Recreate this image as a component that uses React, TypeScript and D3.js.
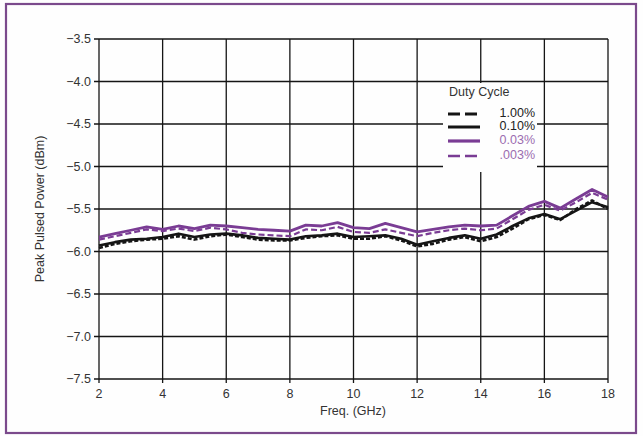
import React from "react";
import * as d3 from "d3";

const freqs = [2, 2.5, 3, 3.5, 4, 4.5, 5, 5.5, 6, 6.5, 7, 7.5, 8, 8.5, 9, 9.5, 10, 10.5, 11, 11.5, 12, 12.5, 13, 13.5, 14, 14.5, 15, 15.5, 16, 16.5, 17, 17.5, 18];

const duty100 = [-5.96, -5.91, -5.88, -5.86, -5.85, -5.82, -5.86, -5.82, -5.8, -5.83, -5.86, -5.87, -5.87, -5.84, -5.82, -5.81, -5.85, -5.85, -5.82, -5.87, -5.94, -5.91, -5.86, -5.83, -5.88, -5.83, -5.73, -5.62, -5.57, -5.63, -5.5, -5.4, -5.5];
const duty010 = [-5.93, -5.89, -5.86, -5.85, -5.83, -5.79, -5.83, -5.8, -5.79, -5.81, -5.84, -5.85, -5.86, -5.82, -5.81, -5.79, -5.83, -5.82, -5.81, -5.85, -5.92, -5.88, -5.84, -5.81, -5.85, -5.8, -5.7, -5.61, -5.56, -5.62, -5.52, -5.42, -5.48];
const duty003 = [-5.83, -5.79, -5.75, -5.71, -5.74, -5.7, -5.73, -5.69, -5.7, -5.72, -5.74, -5.75, -5.76, -5.69, -5.7, -5.66, -5.72, -5.73, -5.67, -5.72, -5.77, -5.74, -5.71, -5.69, -5.7, -5.69, -5.58, -5.47, -5.41, -5.49, -5.38, -5.27, -5.36];
const duty0003 = [-5.86, -5.82, -5.78, -5.74, -5.76, -5.73, -5.76, -5.72, -5.74, -5.78, -5.8, -5.81, -5.82, -5.74, -5.75, -5.71, -5.77, -5.78, -5.74, -5.78, -5.82, -5.78, -5.75, -5.73, -5.75, -5.73, -5.62, -5.51, -5.45, -5.52, -5.42, -5.31, -5.39];

const xTicks = [2, 4, 6, 8, 10, 12, 14, 16, 18];
const yTicks = [-3.5, -4.0, -4.5, -5.0, -5.5, -6.0, -6.5, -7.0, -7.5];
const legendLabels = ["1.00%", "0.10%", "0.03%", ".003%"];

const BLACK = "#151515";
const PURPLE = "#7a3c94";
const PURPLE_TEXT = "#9b6cb0";
const FONT = "'Liberation Sans', Arial, Helvetica, sans-serif";

export default function App() {
  const W = 643, H = 436;
  const x = d3.scaleLinear().domain([2, 18]).range([99, 608]);
  const y = d3.scaleLinear().domain([-3.5, -7.5]).range([39, 379]);

  const series = [
    { name: legendLabels[0], values: duty100, color: BLACK, dash: "4,2", width: 2.6, text: "#222" },
    { name: legendLabels[1], values: duty010, color: BLACK, dash: null, width: 2.6, text: "#222" },
    { name: legendLabels[3], values: duty0003, color: PURPLE, dash: "6,3", width: 2.2, text: PURPLE_TEXT },
    { name: legendLabels[2], values: duty003, color: PURPLE, dash: null, width: 2.8, text: PURPLE_TEXT },
  ];
  const legendOrder = [series[0], series[1], series[3], series[2]];

  const line = (vals: number[]) =>
    d3.line<number>().x((_, i) => x(freqs[i])).y((v) => y(v))(vals) || "";

  const legendRowsY = [114, 127, 141, 156];

  return (
    <svg width={W} height={H} style={{ position: "absolute", left: 0, top: 0, background: "#fff" }}>
      <rect x={0} y={0} width={W} height={H} fill="#fefefe" />
      <rect x={6} y={4} width={630} height={429} fill="none" stroke="#7b4a8c" strokeWidth={2.2} />
      {/* grid */}
      {xTicks.map((t) => (
        <line key={"gx" + t} x1={x(t)} x2={x(t)} y1={y(-3.5)} y2={y(-7.5) + 4} stroke={BLACK} strokeWidth={1.3} />
      ))}
      {yTicks.map((t) => (
        <line key={"gy" + t} x1={x(2) - 5} x2={x(18)} y1={y(t)} y2={y(t)} stroke={BLACK} strokeWidth={1.3} />
      ))}
      {/* legend background */}
      <rect x={443} y={83} width={94} height={89} fill="#fefefe" />
      {/* series */}
      {series.map((s) => (
        <path key={s.name} d={line(s.values)} fill="none" stroke={s.color} strokeWidth={s.width}
          strokeDasharray={s.dash || undefined} strokeLinejoin="round" />
      ))}
      {/* tick labels */}
      {yTicks.map((t) => (
        <text key={"yl" + t} x={91} y={y(t)} dy="0.35em" textAnchor="end" fontFamily={FONT} fontSize={12.5} fill="#333">
          {d3.format(".1f")(t).replace("-", "\u2212")}
        </text>
      ))}
      {xTicks.map((t) => (
        <text key={"xl" + t} x={x(t)} y={394} dy="0.35em" textAnchor="middle" fontFamily={FONT} fontSize={12.5} fill="#333">
          {t}
        </text>
      ))}
      <text x={353} y={411} dy="0.35em" textAnchor="middle" fontFamily={FONT} fontSize={12.5} fill="#333">Freq. (GHz)</text>
      <text transform={`translate(40,${y(-5.5)}) rotate(-90)`} dy="0.35em" textAnchor="middle" fontFamily={FONT} fontSize={12.5} fill="#333">
        Peak Pulsed Power (dBm)
      </text>
      {/* legend */}
      <text x={449} y={92} dy="0.35em" fontFamily={FONT} fontSize={12.5} fill="#333">Duty Cycle</text>
      {legendOrder.map((s, i) => (
        <g key={"lg" + s.name}>
          <line x1={448} x2={480} y1={legendRowsY[i]} y2={legendRowsY[i]} stroke={s.color}
            strokeWidth={s.width + 0.4} strokeDasharray={s.dash ? "12,5" : undefined} />
          <text x={535} y={legendRowsY[i] - 1} dy="0.35em" textAnchor="end" fontFamily={FONT} fontSize={12.5} fill={s.text}>
            {s.name}
          </text>
        </g>
      ))}
    </svg>
  );
}
